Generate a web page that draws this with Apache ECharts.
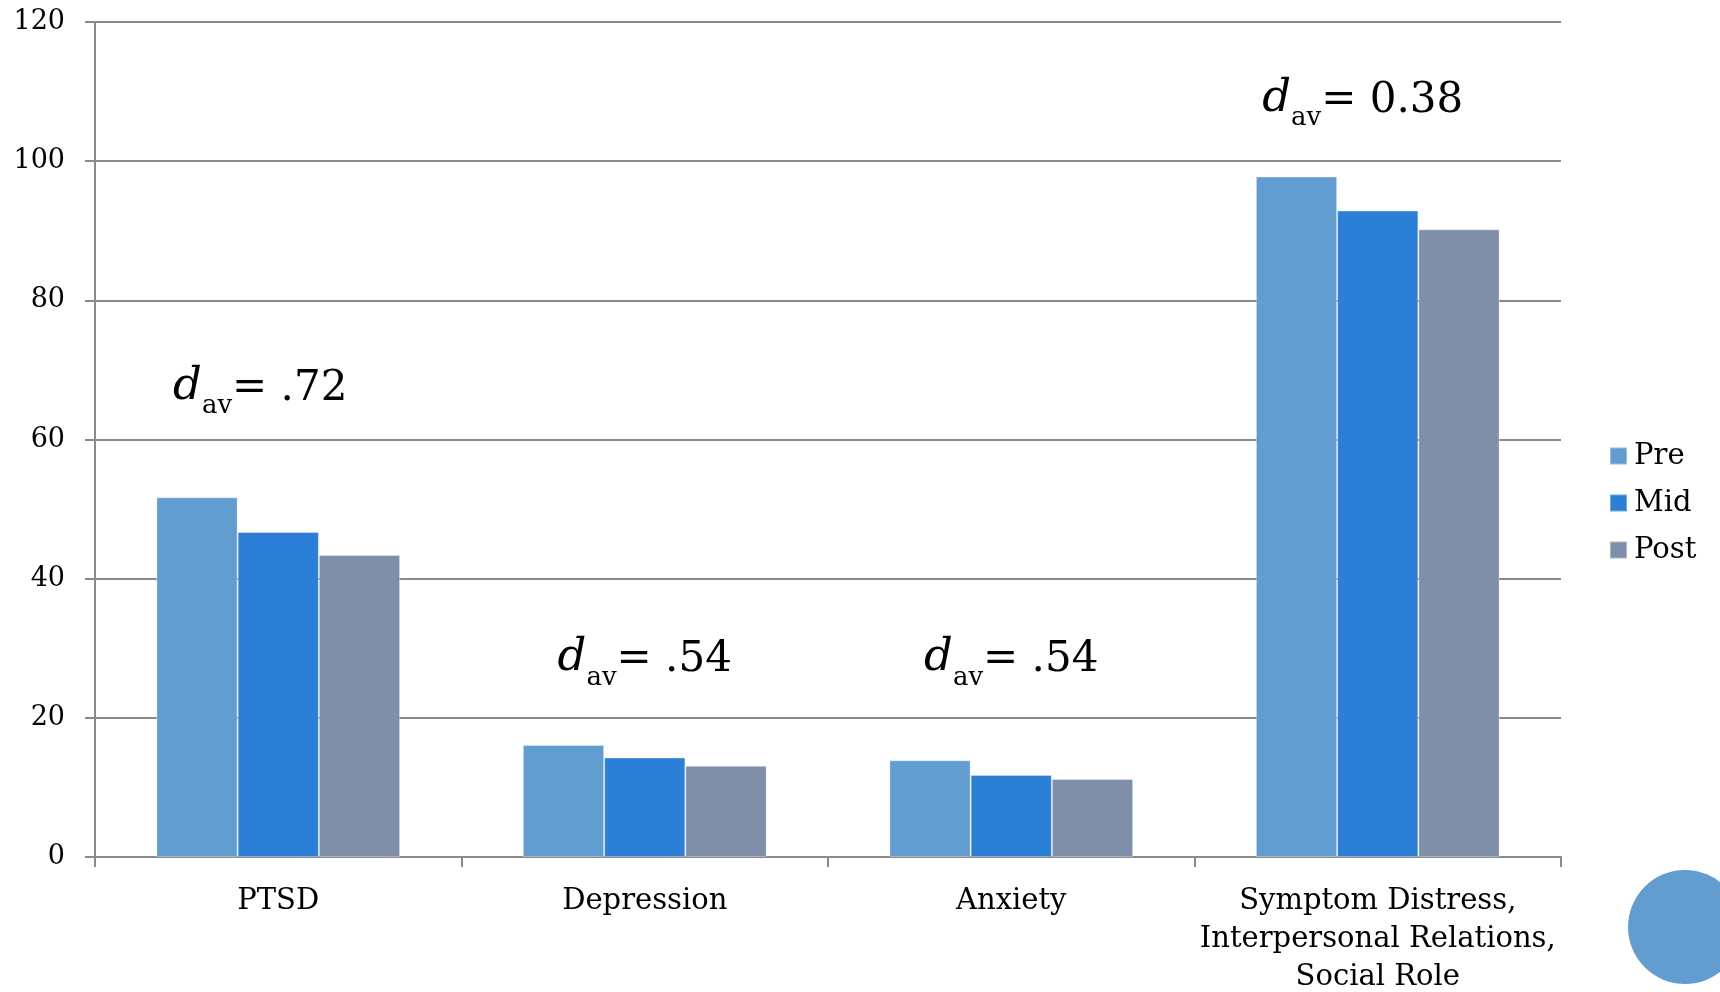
<!DOCTYPE html>
<html>
<head>
<meta charset="utf-8">
<script src="https://cdn.jsdelivr.net/npm/echarts@6/dist/echarts.min.js"></script>
<style>
html,body{margin:0;padding:0;background:#fff;}
#chart{width:1720px;height:992px;}
</style>
</head>
<body>
<div id="chart"></div>
<script>
const categories = ['PTSD', 'Depression', 'Anxiety', 'Symptom Distress,\nInterpersonal Relations,\nSocial Role'];
const seriesNames = ['Pre', 'Mid', 'Post'];
const preValues = [51.7, 16.1, 13.9, 97.8];
const midValues = [46.7, 14.3, 11.8, 92.9];
const postValues = [43.4, 13.1, 11.2, 90.2];
const effectSizes = ['.72', '.54', '.54', '0.38'];
const effectLabelY = [66.8, 27.8, 27.8, 108.2];
const yMin = 0, yMax = 120, yInterval = 20;

const colors = ['#629DD1', '#2B7FD6', '#7F8FA9'];
const FONT = 'DejaVu Serif';
const axisGray = '#8a8a8a';
const labelOffsets = [[-18, 0], [0, 0], [0, 0], [-15, 0]];

const chart = echarts.init(document.getElementById('chart'), null, {renderer: 'canvas'});

const barSeries = [preValues, midValues, postValues].map((vals, i) => ({
  name: seriesNames[i],
  type: 'bar',
  data: vals,
  barGap: 0,
  barCategoryGap: '33.5%',
  itemStyle: {color: colors[i], borderColor: 'rgba(255,255,255,0.35)', borderWidth: 1},
  z: 3
}));

const annotationSeries = {
  name: 'effect',
  type: 'scatter',
  symbolSize: 0,
  silent: true,
  itemStyle: {color: '#000', opacity: 1},
  data: categories.map((c, i) => ({value: [c, effectLabelY[i]], label: {offset: labelOffsets[i]}})),
  label: {
    show: true,
    position: 'inside',
    color: '#000',
    opacity: 1,
    textBorderWidth: 0,
    formatter: p => '{d|d}{s|av}{n|= ' + effectSizes[p.dataIndex] + '}',
    rich: {
      d: {fontFamily: FONT, fontStyle: 'italic', fontSize: 45, color: '#000', textBorderWidth: 0, verticalAlign: 'bottom', padding: [0, 0, 10, 0]},
      s: {fontFamily: FONT, fontSize: 26, color: '#000', textBorderWidth: 0, verticalAlign: 'bottom'},
      n: {fontFamily: FONT, fontSize: 42, color: '#000', textBorderWidth: 0, verticalAlign: 'bottom', padding: [0, 0, 10, 0]}
    }
  },
  z: 5
};

chart.setOption({
  animation: false,
  backgroundColor: '#fff',
  color: colors,
  grid: {left: 95, right: 159, top: 22, bottom: 135, containLabel: false, outerBoundsMode: 'none'},
  legend: {
    data: seriesNames,
    orient: 'vertical',
    left: 1604,
    top: 428,
    itemWidth: 17,
    itemHeight: 17,
    itemGap: 1,
    icon: 'rect',
    textStyle: {fontFamily: FONT, fontSize: 29, color: '#000', lineHeight: 46, padding: [0, 0, 0, 2]}
  },
  xAxis: {
    type: 'category',
    data: categories,
    axisLine: {show: true, lineStyle: {color: axisGray, width: 2}},
    axisTick: {show: true, length: 10, lineStyle: {color: axisGray, width: 2}},
    axisLabel: {fontFamily: FONT, fontSize: 29, color: '#000', lineHeight: 38, margin: 25, interval: 0},
    splitLine: {show: false}
  },
  yAxis: {
    type: 'value',
    min: yMin,
    max: yMax,
    interval: yInterval,
    axisLine: {show: true, lineStyle: {color: axisGray, width: 2}},
    axisTick: {show: true, length: 10, lineStyle: {color: axisGray, width: 2}},
    axisLabel: {fontFamily: FONT, fontSize: 27, color: '#000', margin: 30},
    splitLine: {show: true, lineStyle: {color: axisGray, width: 2}}
  },
  series: [...barSeries, annotationSeries],
  graphic: [{
    type: 'circle',
    shape: {cx: 1685, cy: 927, r: 57},
    style: {fill: '#629DD1'},
    z: 10
  }]
});
</script>
</body>
</html>
